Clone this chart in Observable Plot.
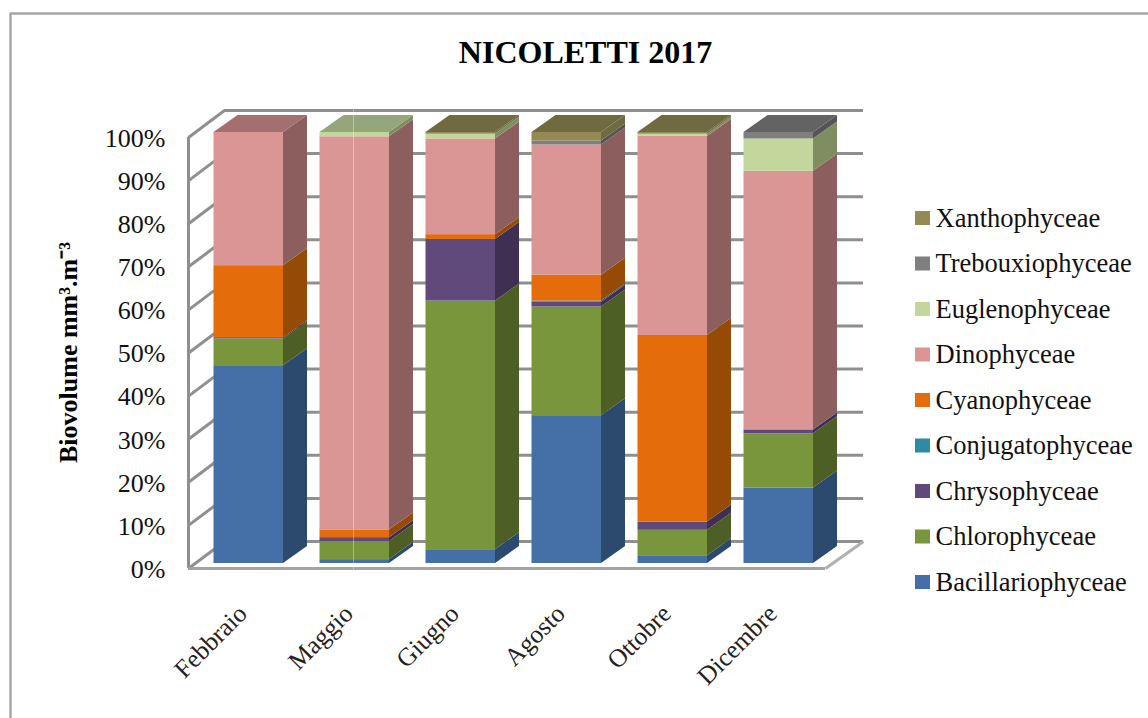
<!DOCTYPE html>
<html><head><meta charset="utf-8">
<script src="https://cdn.jsdelivr.net/npm/d3@7"></script>
<script src="https://cdn.jsdelivr.net/npm/@observablehq/plot@0.6"></script>
<style>html,body{margin:0;padding:0;background:#fff;overflow:hidden}svg{display:block}</style>
</head><body><div id="chart"></div>
<script>
const title = "NICOLETTI 2017";
const yLabel = "Biovolume mm³.m⁻³";
const months = ["Febbraio","Maggio","Giugno","Agosto","Ottobre","Dicembre"];
const seriesNames = ["Bacillariophyceae","Chlorophyceae","Chrysophyceae","Conjugatophyceae","Cyanophyceae","Dinophyceae","Euglenophyceae","Trebouxiophyceae","Xanthophyceae"];
const Bacillariophyceae = [45.9,0.9,3.2,34.3,1.8,17.5];
const Chlorophyceae     = [6.2,4.2,57.7,25.2,5.9,12.6];
const Chrysophyceae     = [0.3,0.9,14.3,1.1,1.9,0.9];
const Conjugatophyceae  = [0,0,0,0.3,0,0];
const Cyanophyceae      = [16.7,1.8,1.1,6.0,43.3,0];
const Dinophyceae       = [30.9,91.2,22.2,30.2,46.2,60.0];
const Euglenophyceae    = [0,1.0,1.1,0,0.5,7.5];
const Trebouxiophyceae  = [0,0,0,0.9,0,1.5];
const Xanthophyceae     = [0,0,0.4,2.0,0.4,0];
const seriesValues = [Bacillariophyceae,Chlorophyceae,Chrysophyceae,Conjugatophyceae,Cyanophyceae,Dinophyceae,Euglenophyceae,Trebouxiophyceae,Xanthophyceae];
const frontColors = ["#4470a7","#7a963c","#604a7b","#2f8ba3","#e46c0a","#d99694","#c3d69b","#7f7f7f","#948a54"];
const sideColors  = ["#2c4a6e","#4e5f25","#3f2f53","#1f5c6d","#954a06","#8c5e5e","#7f8e61","#555555","#6f6a3f"];
const topColors   = ["#38598a","#647a32","#4f3d66","#27738a","#bb5a08","#a46f6f","#95a67b","#636363","#6f6a3f"];

// pixel <-> data conversions for the scales
const X0 = 213.5, XU = 106, Y0 = 563, YU = 4.31;
const xd = p => (p - X0) / XU;
const yd = p => (Y0 - p) / YU;
const W = 1148, H = 718, ML = 168, MR = W - 870, MT = 105, MB = H - 563;

const barW = 69.5 / XU, barDX = 24 / XU, barDY = 17 / YU;
const wallDX = 36 / XU, wallDY = 27 / YU;
const floorX = xd(188), floorY = yd(568);
const backX = floorX + wallDX, backY = floorY + wallDY;
const wallRight = xd(863), floorRight = xd(825);
const ticks = d3.range(0, 101, 10);

const fronts = [], sides = [], tops = [];
months.forEach((m, i) => {
  let acc = 0, last = 0;
  seriesNames.forEach((s, k) => {
    const v = seriesValues[k][i];
    if (v <= 0) return;
    const a = acc, b = acc + v; acc = b; last = k;
    const l = i, r = i + barW;
    fronts.push({l, r, a, b, fill: frontColors[k]});
    const id = m + s;
    sides.push({id, x: r, a, b, fill: sideColors[k]});
    sides.push({id, x: r + barDX, a: a + barDY, b: b + barDY, fill: sideColors[k]});
  });
  const l = i, r = i + barW, v = acc, fill = topColors[last];
  tops.push({id: m, x: l, a: v, b: v, fill});
  tops.push({id: m, x: l + barDX, a: v, b: v + barDY, fill});
  tops.push({id: m, x: r, a: v, b: v + barDY, fill});
  tops.push({id: m, x: r + barDX, a: v + barDY, b: v + barDY, fill});
});

const legendRows = seriesNames.map((s, k) => ({s, fill: frontColors[k], row: 8 - k}));
const legendY = r => yd(218 + r * 45.5);
const gridColor = "#8f8f8f";

const chart = Plot.plot({
  width: W, height: H,
  marginLeft: ML, marginRight: MR, marginTop: MT, marginBottom: MB,
  style: {fontFamily: "'Liberation Serif', serif", background: "#fff", color: "#111"},
  x: {domain: [xd(ML), xd(W - MR)], axis: null},
  y: {domain: [0, yd(MT)], axis: null},
  color: {type: "identity"},
  marks: [
    // outer border
    Plot.ruleY([yd(13)], {x1: xd(10), x2: xd(W), stroke: "#a6a6a6", strokeWidth: 2.5}),
    Plot.ruleX([xd(10)], {y1: yd(13), y2: yd(H), stroke: "#a6a6a6", strokeWidth: 2.5}),
    // back-wall gridlines
    Plot.ruleY(ticks, {y: d => backY + d * (yd(110) - backY) / 100, x1: backX, x2: wallRight, stroke: gridColor, strokeWidth: 3}),
    // left-wall diagonals
    Plot.link(ticks, {
      x1: floorX, x2: backX,
      y1: d => floorY + d * (yd(137) - floorY) / 100,
      y2: d => backY + d * (yd(110) - backY) / 100,
      stroke: gridColor, strokeWidth: 3
    }),
    Plot.ruleX([floorX], {y1: floorY, y2: yd(137), stroke: gridColor, strokeWidth: 3}),
    // floor
    Plot.ruleY([floorY], {x1: floorX, x2: floorRight, stroke: "#a3a3a3", strokeWidth: 3}),
    Plot.link([0], {x1: floorRight, x2: wallRight, y1: floorY, y2: backY, stroke: "#b0b0b0", strokeWidth: 3}),
    // bars
    Plot.area(sides, {x1: "x", y1: "a", y2: "b", z: "id", fill: "fill"}),
    Plot.area(tops, {x1: "x", y1: "a", y2: "b", z: "id", fill: "fill"}),
    Plot.rect(fronts, {x1: "l", x2: "r", y1: "a", y2: "b", fill: "fill", inset: 0}),
    // scan artefact across the second bar
    Plot.ruleX([xd(353)], {y1: yd(570), y2: yd(106), stroke: "#fff", strokeOpacity: 0.35, strokeWidth: 1}),
    // axes
    Plot.axisY({ticks, tickSize: 0, tickPadding: 3, tickFormat: d => d + "%", fontSize: 26, dy: 6, label: null}),
    Plot.text(months, {
      x: (d, i) => i + barW / 2 - 6 / XU, y: yd(609), text: d => d,
      rotate: -45, textAnchor: "end", fontSize: 25.5, fill: "#222"
    }),
    // titles
    Plot.text([title], {x: xd(585), y: yd(52), text: d => d, fontSize: 32, fontWeight: "bold", fill: "#000"}),
    Plot.text([yLabel], {x: xd(68), y: yd(352), text: d => d, rotate: -90, fontSize: 26, fontWeight: "bold", fill: "#000"}),
    // legend
    Plot.rect(legendRows, {x1: xd(915), x2: xd(930), y1: d => legendY(d.row) - 7 / YU, y2: d => legendY(d.row) + 7 / YU, fill: "fill"}),
    Plot.text(legendRows, {x: xd(935), y: d => legendY(d.row), text: "s", textAnchor: "start", fontSize: 26.5, fill: "#111"})
  ]
});
document.getElementById("chart").append(chart);
</script></body></html>
